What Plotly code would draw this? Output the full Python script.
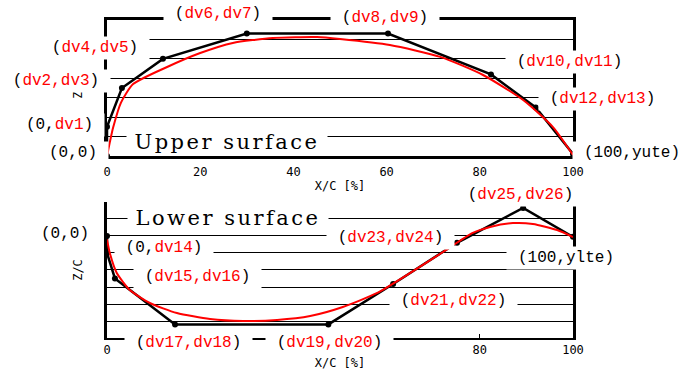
import plotly.graph_objects as go

# ---------------- data ----------------
upper_ctrl_x = [0, 0, 3.2, 12.0, 30.0, 60.3, 82.4, 92.0, 100]
upper_ctrl_z = [0, 1.5, 3.5, 5.0, 6.3, 6.3, 4.2, 2.5, 0.1]

upper_curve_x = [0, 0.6, 1.3, 3.0, 5.6, 12.9, 20.0, 27.0, 35.6, 45.1, 50.0, 60.7, 71.5, 80.7, 89.3, 95.7, 100]
upper_curve_z = [0, 0.7, 1.45, 2.75, 3.7, 4.58, 5.3, 5.82, 6.07, 6.12, 6.02, 5.71, 5.1, 4.17, 2.88, 1.49, 0.05]

lower_ctrl_x = [0, 0, 1.7, 14.6, 47.5, 61.4, 75.1, 89.3, 100]
lower_ctrl_z = [0, -1.0, -2.5, -5.2, -5.2, -2.82, -0.4, 1.65, -0.05]

lower_curve_x = [0, 0.6, 2.1, 4.9, 9.2, 15.0, 22.1, 29.2, 36.5, 43.6, 50.6, 58.0, 65.0, 72.1, 78.5, 82.2, 87.1, 91.4, 96.6, 100]
lower_curve_z = [-0.2, -1.0, -2.18, -3.18, -3.94, -4.53, -4.88, -5.0, -4.94, -4.71, -4.18, -3.35, -2.18, -0.94, 0.18, 0.53, 0.76, 0.71, 0.35, -0.06]

x_tick_vals = [0, 20, 40, 60, 80, 100]
upper_tick_text = ["0", "20", "40", "60", "80", "100"]
lower_tick_text = ["0", "", "", "", "80", "100"]   # 20/40/60 hidden behind labels in the original

R = '<span style="color:#ff0000">'
E = '</span>'
upper_labels = ["(0,0)", f"(0,{R}dv1{E})", f"({R}dv2,dv3{E})", f"({R}dv4,dv5{E})",
                f"({R}dv6,dv7{E})", f"({R}dv8,dv9{E})", f"({R}dv10,dv11{E})",
                f"({R}dv12,dv13{E})", "(100,yute)"]
lower_labels = ["(0,0)", f"(0,{R}dv14{E})", f"({R}dv15,dv16{E})", f"({R}dv17,dv18{E})",
                f"({R}dv19,dv20{E})", f"({R}dv21,dv22{E})", f"({R}dv23,dv24{E})",
                f"({R}dv25,dv26{E})", "(100,ylte)"]
label_chars_upper = [5, 7, 9, 9, 9, 9, 11, 11, 10]
label_chars_lower = [5, 8, 11, 11, 11, 11, 11, 11, 10]

# label centres in page pixels (placement, not data)
upper_label_px = [(73, 153), (59, 125), (56, 81), (95, 48), (218, 14), (385, 18), (569, 62), (602, 99), (632, 153)]
lower_label_px = [(65, 234), (164, 248), (197, 277), (188, 343), (329, 343), (453, 301), (390, 238), (520, 195), (566, 258)]
title_px = {"Upper surface": (227, 142), "Lower surface": (228, 218)}

# ---------------- figure ----------------
W, H = 680, 374
ML, MR, MT, MB = 107, 107, 20, 36
PW, PH = W - ML - MR, H - MT - MB


def to_paper(px, py):
    return (px - ML) / PW, (H - MB - py) / PH


fig = go.Figure()

fig.add_trace(go.Scatter(x=upper_ctrl_x, y=upper_ctrl_z, mode="lines+markers",
                         line=dict(color="black", width=2.5),
                         marker=dict(color="black", size=6),
                         xaxis="x", yaxis="y", cliponaxis=False))
fig.add_trace(go.Scatter(x=upper_curve_x, y=upper_curve_z, mode="lines",
                         line=dict(color="#ff0000", width=2, shape="spline", smoothing=0.6),
                         xaxis="x", yaxis="y"))
fig.add_trace(go.Scatter(x=lower_ctrl_x, y=lower_ctrl_z, mode="lines+markers",
                         line=dict(color="black", width=2.5),
                         marker=dict(color="black", size=6),
                         xaxis="x2", yaxis="y2", cliponaxis=False))
fig.add_trace(go.Scatter(x=lower_curve_x, y=lower_curve_z, mode="lines",
                         line=dict(color="#ff0000", width=2, shape="spline", smoothing=0.6),
                         xaxis="x2", yaxis="y2"))

tickfont = dict(family="DejaVu Sans Mono", size=12, color="black")
titlefont = dict(family="DejaVu Sans Mono", size=12, color="black")

fig.update_layout(
    width=W, height=H,
    margin=dict(l=ML, r=MR, t=MT, b=MB, autoexpand=False),
    paper_bgcolor="white", plot_bgcolor="white",
    showlegend=False,
    xaxis=dict(domain=[0, 1], anchor="y", range=[0, 100], tickvals=x_tick_vals, ticktext=upper_tick_text,
               showgrid=False, zeroline=False, showline=True, linecolor="black", linewidth=3,
               mirror=True, ticks="", tickfont=tickfont, ticklabelstandoff=3, automargin=False,
               title=dict(text="X/C [%]", font=titlefont, standoff=4)),
    yaxis=dict(domain=[0.5723, 1], anchor="x", range=[0, 7], dtick=1, showticklabels=False,
               showgrid=True, gridcolor="black", gridwidth=1, zeroline=False, automargin=False,
               showline=True, linecolor="black", linewidth=3, mirror=True, ticks="",
               title=dict(text="Z/C", font=titlefont, standoff=19)),
    xaxis2=dict(domain=[0, 1], anchor="y2", range=[0, 100], tickvals=x_tick_vals, ticktext=lower_tick_text,
                showgrid=False, zeroline=False, showline=True, linecolor="black", linewidth=2,
                mirror=False, ticks="inside", ticklen=4, tickcolor="black", tickfont=tickfont,
                ticklabelstandoff=0, automargin=False,
                title=dict(text="X/C [%]", font=titlefont, standoff=2)),
    yaxis2=dict(domain=[0, 0.4277], anchor="x2", range=[-6, 2], dtick=1, showticklabels=False,
                showgrid=True, gridcolor="black", gridwidth=1, zeroline=False, automargin=False,
                showline=True, linecolor="black", linewidth=3, mirror=True, ticks="",
                title=dict(text="Z/C", font=titlefont, standoff=19)),
)

lab_font = dict(family="Liberation Mono", size=16, color="black")
annos = []
for txt, n, (px, py) in zip(upper_labels + lower_labels,
                            label_chars_upper + label_chars_lower,
                            upper_label_px + lower_label_px):
    ax_, ay_ = to_paper(px, py)
    annos.append(dict(text=txt, x=ax_, y=ay_, xref="paper", yref="paper", showarrow=False,
                      xanchor="center", yanchor="middle",
                      font=lab_font, bgcolor="white", borderpad=0,
                      width=int(n * 9.6 + 22), height=22))

big_font = dict(family="DejaVu Serif", size=21, color="black")
for txt, (px, py) in title_px.items():
    ax_, ay_ = to_paper(px, py)
    annos.append(dict(text=f'<span style="letter-spacing:2.5px">{txt}</span>', x=ax_, y=ay_,
                      xref="paper", yref="paper", showarrow=False, xanchor="center", yanchor="middle",
                      font=big_font, bgcolor="white", borderpad=0, width=200, height=22))
fig.update_layout(annotations=annos)

fig.write_html("out.html")
